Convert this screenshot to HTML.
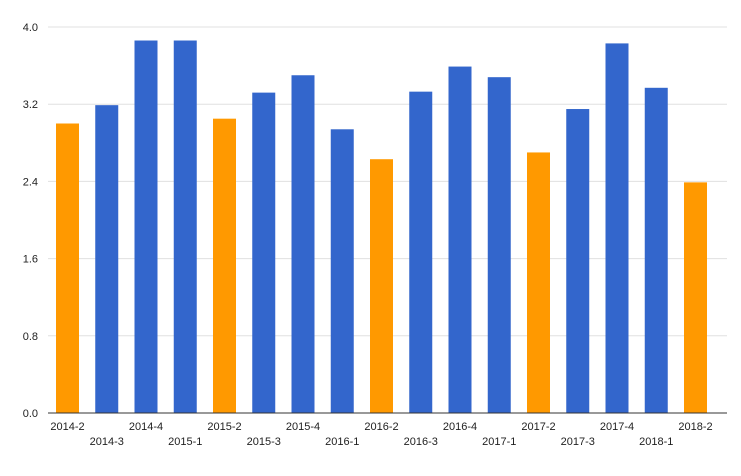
<!DOCTYPE html>
<html><head><meta charset="utf-8"><style>
body{margin:0;background:#fff;font-family:"Liberation Sans",Arial,sans-serif}
svg text{font-family:"Liberation Sans",Arial,sans-serif;font-size:11px;fill:#222}
</style></head><body>
<svg id="chart" width="741" height="471"></svg>
<script>
const categories=["2014-2","2014-3","2014-4","2015-1","2015-2","2015-3","2015-4","2016-1","2016-2","2016-3","2016-4","2017-1","2017-2","2017-3","2017-4","2018-1","2018-2"];
const values=[3.00,3.19,3.86,3.86,3.05,3.32,3.50,2.94,2.63,3.33,3.59,3.48,2.70,3.15,3.83,3.37,2.39];
const highlight=[1,0,0,0,1,0,0,0,1,0,0,0,1,0,0,0,1];
const yTicks=[0,0.8,1.6,2.4,3.2,4.0];
const tickLabels=["0.0","0.8","1.6","2.4","3.2","4.0"];
const svg=document.getElementById('chart');
const NS='http://www.w3.org/2000/svg';
const x0=48,x1=727,yBase=413,yTop=27,yMax=4.0;
const y=v=>yBase-(v/yMax)*(yBase-yTop);
const step=39.25,bw=23,firstX=56;
const xb=i=>firstX+i*step;
function mk(t,a){const e=document.createElementNS(NS,t);for(const k in a)e.setAttribute(k,a[k]);svg.appendChild(e);return e;}
yTicks.forEach((t,i)=>{
 if(t>0){const g=mk('line',{x1:x0,x2:x1,y1:y(t),y2:y(t),stroke:'#e0e0e0','stroke-width':1});
 
 }
 const l=mk('text',{x:38,y:y(t)+4,'text-anchor':'end'});l.textContent=tickLabels[i];
 
 
});
values.forEach((v,i)=>{
 const r=mk('rect',{x:xb(i),y:y(v),width:bw,height:yBase-y(v),fill:highlight[i]?'#ff9900':'#3366cc'});
 
 
 const t=mk('text',{x:xb(i)+bw/2,y:i%2?445:430,'text-anchor':'middle'});t.textContent=categories[i];
 
 
});
const ax=mk('line',{x1:x0,x2:x1,y1:yBase,y2:yBase,stroke:'#333','stroke-width':1});


</script>
</body></html>
